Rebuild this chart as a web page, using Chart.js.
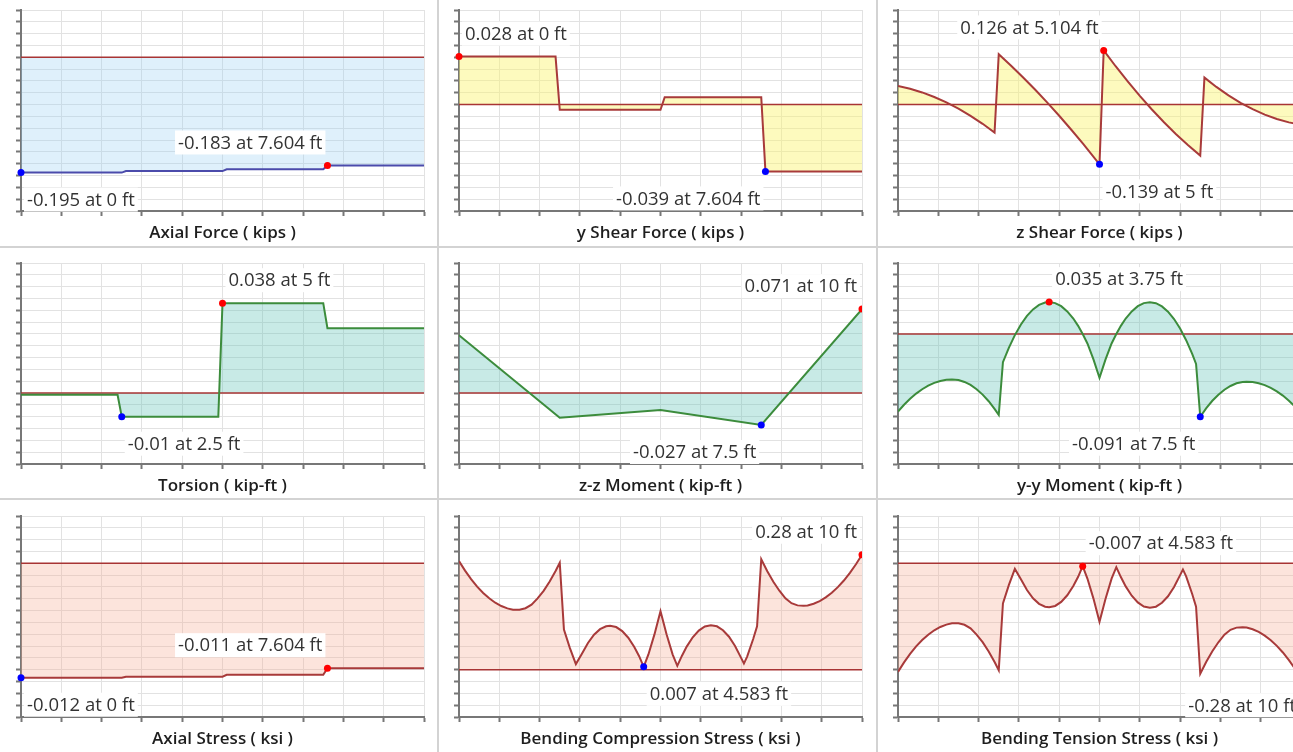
<!DOCTYPE html>
<html>
<head>
<meta charset="utf-8">
<title>Member Diagrams</title>
<script src="https://cdn.jsdelivr.net/npm/chart.js@4.4.1/dist/chart.umd.min.js"></script>
<style>
  html, body { margin: 0; padding: 0; background: #fff; }
  body { position: relative; width: 1293px; height: 752px; overflow: hidden; }
  .panel { position: absolute; }
  .sep { position: absolute; background: #d3d3d3; }
</style>
</head>
<body>
<div class="sep" style="left:437px;top:0;width:2px;height:752px"></div>
<div class="sep" style="left:876px;top:0;width:2px;height:752px"></div>
<div class="sep" style="left:0;top:246px;width:1293px;height:2px"></div>
<div class="sep" style="left:0;top:498px;width:1293px;height:2px"></div>

<canvas class="panel" id="c0" width="440" height="250" style="left:0px;top:0px"></canvas>
<canvas class="panel" id="c1" width="440" height="250" style="left:438px;top:0px"></canvas>
<canvas class="panel" id="c2" width="440" height="250" style="left:877px;top:0px"></canvas>
<canvas class="panel" id="c3" width="440" height="250" style="left:0px;top:253px"></canvas>
<canvas class="panel" id="c4" width="440" height="250" style="left:438px;top:253px"></canvas>
<canvas class="panel" id="c5" width="440" height="250" style="left:877px;top:253px"></canvas>
<canvas class="panel" id="c6" width="440" height="250" style="left:0px;top:506px"></canvas>
<canvas class="panel" id="c7" width="440" height="250" style="left:438px;top:506px"></canvas>
<canvas class="panel" id="c8" width="440" height="250" style="left:877px;top:506px"></canvas>

<script>
// ---- Member results along the 10 ft span (x in ft) ----

// Axial force (kips)
const axialForceX = [0, 2.5, 2.604, 5, 5.104, 7.5, 7.604, 10];
const axialForceY = [-0.195, -0.195, -0.1925, -0.1925, -0.1895, -0.1895, -0.183, -0.183];
const axialForceMax = [7.604, -0.183];
const axialForceMin = [0, -0.195];

// y shear force (kips)
const yShearX = [0, 2.396, 2.5, 5, 5.104, 7.5, 7.604, 10];
const yShearY = [0.028, 0.028, -0.003, -0.003, 0.0043, 0.0043, -0.039, -0.039];
const yShearMax = [0, 0.028];
const yShearMin = [7.604, -0.039];

// z shear force (kips)
const zShearX = [0, 0.3, 0.6, 0.9, 1.2, 1.5, 1.8, 2.1, 2.396,
                 2.5, 2.8, 3.1, 3.4, 3.7, 4.0, 4.3, 4.6, 5.0,
                 5.104, 5.4, 5.7, 6.0, 6.3, 6.6, 6.9, 7.2, 7.5,
                 7.604, 7.9, 8.2, 8.5, 8.8, 9.1, 9.4, 9.7, 10];
const zShearY = [0.0435, 0.0369, 0.0283, 0.0177, 0.0051, -0.0095, -0.0261, -0.0447, -0.065,
                 0.117, 0.0909, 0.0636, 0.035, 0.0051, -0.026, -0.0585, -0.0921, -0.139,
                 0.126, 0.0892, 0.0538, 0.0202, -0.0114, -0.041, -0.0688, -0.0947, -0.1186,
                 0.0628, 0.0411, 0.0215, 0.0042, -0.0107, -0.0233, -0.0335, -0.0414, -0.0469];
const zShearMax = [5.104, 0.126];
const zShearMin = [5, -0.139];

// Torsion (kip-ft)
const torsionX = [0, 2.396, 2.5, 4.896, 5, 7.5, 7.604, 10];
const torsionY = [-0.0007, -0.0007, -0.01, -0.01, 0.038, 0.038, 0.0274, 0.0274];
const torsionMax = [5, 0.038];
const torsionMin = [2.5, -0.01];

// z-z moment (kip-ft)
const zzMomentX = [0, 2.5, 5, 7.5, 10];
const zzMomentY = [0.0489, -0.0208, -0.0143, -0.027, 0.071];
const zzMomentMax = [10, 0.071];
const zzMomentMin = [7.5, -0.027];

// Stations shared by the y-y moment and bending stress diagrams
const curveStations = [
  0, 0.15, 0.3, 0.45, 0.6, 0.75, 0.9, 1.05, 1.2, 1.34, 1.5, 1.65, 1.8, 1.95, 2.1, 2.25, 2.4, 2.5,
  2.604, 2.75, 2.9, 3.05, 3.2, 3.35, 3.5, 3.65, 3.75, 3.9, 4.05, 4.2, 4.35, 4.47, 4.583, 4.7, 4.85, 5.0,
  5.15, 5.3, 5.417, 5.53, 5.65, 5.8, 5.95, 6.1, 6.25, 6.4, 6.55, 6.7, 6.85, 7.0, 7.07, 7.15, 7.3, 7.396,
  7.5, 7.65, 7.8, 7.95, 8.1, 8.25, 8.4, 8.55, 8.65, 8.8, 8.95, 9.1, 9.25, 9.4, 9.55, 9.7, 9.85, 10
];

// y-y moment (kip-ft)
const yyMomentY = [
  -0.0854, -0.0779, -0.0713, -0.0656, -0.0608, -0.0569, -0.0538, -0.0517, -0.0504, -0.05,
  -0.0507, -0.0528, -0.0561, -0.0608, -0.0667, -0.074, -0.0826, -0.089,
  -0.0311, -0.0153, -0.0013, 0.0104, 0.0198, 0.027, 0.0319, 0.0345, 0.035, 0.0339,
  0.0305, 0.0248, 0.0169, 0.0089, 0, -0.0105, -0.028, -0.0482,
  -0.028, -0.0105, 0, 0.0089, 0.0169, 0.0248, 0.0305, 0.0339, 0.0348, 0.0338,
  0.0303, 0.0245, 0.0164, 0.0059, 0, -0.0069, -0.022, -0.0329,
  -0.091, -0.0816, -0.0735, -0.0668, -0.0613, -0.0572, -0.0543, -0.0528, -0.0525, -0.0529,
  -0.0542, -0.0563, -0.0593, -0.0631, -0.0678, -0.0734, -0.0798, -0.087
];
const yyMomentMax = [3.75, 0.035];
const yyMomentMin = [7.5, -0.091];

// Axial stress (ksi)
const axialStressX = [0, 2.5, 2.604, 5, 5.104, 7.5, 7.604, 10];
const axialStressY = [-0.012, -0.012, -0.0119, -0.0119, -0.0117, -0.0117, -0.011, -0.011];
const axialStressMax = [7.604, -0.011];
const axialStressMin = [0, -0.012];

// Bending compression stress (ksi)
const bendCompY = [
  0.2644, 0.2413, 0.2206, 0.2025, 0.1869, 0.1739, 0.1631, 0.1551, 0.1493, 0.1463,
  0.146, 0.1498, 0.1583, 0.1736, 0.1922, 0.2148, 0.2411, 0.2605,
  0.0976, 0.0531, 0.0136, 0.0389, 0.0651, 0.0852, 0.0987, 0.1058, 0.1072, 0.1039,
  0.0941, 0.0779, 0.0555, 0.0329, 0.007, 0.0371, 0.086, 0.1426,
  0.0862, 0.0374, 0.0095, 0.0335, 0.0563, 0.0789, 0.0953, 0.1052, 0.1081, 0.1057,
  0.0962, 0.0803, 0.0579, 0.0288, 0.015, 0.032, 0.0748, 0.1057,
  0.2692, 0.2399, 0.2141, 0.1924, 0.174, 0.1619, 0.1567, 0.1555, 0.1566, 0.1607,
  0.1672, 0.1761, 0.1874, 0.2011, 0.2172, 0.2359, 0.2568, 0.28
];
const bendCompMax = [10, 0.28];
const bendCompMin = [4.583, 0.007];

// Bending tension stress (ksi)
const bendTensY = [
  -0.2644, -0.2413, -0.2206, -0.2025, -0.1869, -0.1739, -0.1631, -0.1551, -0.1493, -0.1463,
  -0.146, -0.1498, -0.1583, -0.1736, -0.1922, -0.2148, -0.2411, -0.2605,
  -0.0976, -0.0531, -0.0136, -0.0389, -0.0651, -0.0852, -0.0987, -0.1058, -0.1072, -0.1039,
  -0.0941, -0.0779, -0.0555, -0.0329, -0.007, -0.0371, -0.086, -0.1426,
  -0.0862, -0.0374, -0.0095, -0.0335, -0.0563, -0.0789, -0.0953, -0.1052, -0.1081, -0.1057,
  -0.0962, -0.0803, -0.0579, -0.0288, -0.015, -0.032, -0.0748, -0.1057,
  -0.2692, -0.2399, -0.2141, -0.1924, -0.174, -0.1619, -0.1567, -0.1555, -0.1566, -0.1607,
  -0.1672, -0.1761, -0.1874, -0.2011, -0.2172, -0.2359, -0.2568, -0.28
];
const bendTensMax = [4.583, -0.007];
const bendTensMin = [10, -0.28];

// ---- Styling ----
const GRID = '#e2e2e2';
const AXIS = '#777777';
const ZERO = '#a83434';
const FONT = '"Open Sans", "Noto Sans", sans-serif';

const STYLE = {
  blue:   { line: '#4b4bab', fill: 'rgba(148, 205, 242, 0.30)' },
  yellow: { line: '#a83a3a', fill: 'rgba(250, 244, 110, 0.45)' },
  teal:   { line: '#3c8c3c', fill: 'rgba(98, 195, 184, 0.35)' },
  pink:   { line: '#a83a3a', fill: 'rgba(245, 165, 138, 0.30)' }
};

// Title under each plot plus the max / min value call-outs
const panelTextPlugin = {
  id: 'panelText',
  afterDatasetsDraw(chart, args, opts) {
    const { ctx, chartArea, scales } = chart;
    const xs = scales.x, ys = scales.y;
    ctx.save();
    ctx.font = '600 17px ' + FONT;
    ctx.fillStyle = '#1e1e1e';
    ctx.textAlign = 'center';
    ctx.textBaseline = 'middle';
    ctx.fillText(opts.title, (chartArea.left + chartArea.right) / 2, chartArea.bottom + 22);

    ctx.font = '18.5px ' + FONT;
    ctx.textAlign = 'left';
    const callouts = [[opts.maxPt, true], [opts.minPt, false]];
    for (const [pt, isMax] of callouts) {
      const px = xs.getPixelForValue(pt[0]);
      const py = ys.getPixelForValue(pt[1]);
      const text = pt[1] + ' at ' + pt[0] + ' ft';
      const w = ctx.measureText(text).width;
      const left = pt[0] <= 5 ? px + 6 : px - 5 - w;
      const cy = isMax ? py - 23 : py + 27;
      ctx.fillStyle = '#ffffff';
      ctx.fillRect(left - 3, cy - 12, w + 6, 24);
      ctx.fillStyle = '#333333';
      ctx.fillText(text, left, cy + 1);
    }
    ctx.restore();
  }
};

function makePanel(id, xs, ys, style, yMin, yMax, maxPt, minPt, title) {
  const series = xs.map((x, i) => ({ x: x, y: ys[i] }));
  const marker = (pt, color) => ({
    data: [{ x: pt[0], y: pt[1] }],
    showLine: false,
    pointRadius: 3.5,
    pointBackgroundColor: color,
    pointBorderColor: color,
    pointBorderWidth: 0,
    clip: { left: 6, top: 6, right: 0, bottom: 6 },
    order: 0
  });
  const axisGrid = { color: GRID, lineWidth: 1, tickColor: AXIS, tickLength: 5, tickWidth: 2 };
  return new Chart(document.getElementById(id), {
    type: 'line',
    data: {
      datasets: [
        marker(maxPt, '#ff0000'),
        marker(minPt, '#0000ff'),
        {
          data: series,
          borderColor: style.line,
          borderWidth: 2,
          backgroundColor: style.fill,
          fill: { value: 0 },
          pointRadius: 0,
          tension: 0,
          order: 1
        },
        {
          data: [{ x: 0, y: 0 }, { x: 10, y: 0 }],
          borderColor: ZERO,
          borderWidth: 1.5,
          pointRadius: 0,
          fill: false,
          order: 2
        }
      ]
    },
    options: {
      responsive: false,
      animation: false,
      events: [],
      layout: { padding: { left: 16, top: 10, right: 16, bottom: 34 } },
      plugins: {
        legend: { display: false },
        tooltip: { enabled: false },
        filler: { drawTime: 'beforeDatasetsDraw' },
        panelText: { title: title, maxPt: maxPt, minPt: minPt }
      },
      scales: {
        x: {
          type: 'linear', min: 0, max: 10,
          ticks: { display: false, stepSize: 1 },
          grid: axisGrid,
          border: { color: AXIS, width: 2 }
        },
        y: {
          type: 'linear', min: yMin, max: yMax,
          ticks: { display: false, count: 18 },
          grid: axisGrid,
          border: { color: AXIS, width: 2 }
        }
      }
    },
    plugins: [panelTextPlugin]
  });
}

makePanel('c0', axialForceX, axialForceY, STYLE.blue, -0.26, 0.08, axialForceMax, axialForceMin, 'Axial Force ( kips )');
makePanel('c1', yShearX, yShearY, STYLE.yellow, -0.0621, 0.0552, yShearMax, yShearMin, 'y Shear Force ( kips )');
makePanel('c2', zShearX, zShearY, STYLE.yellow, -0.2475, 0.22, zShearMax, zShearMin, 'z Shear Force ( kips )');
makePanel('c3', torsionX, torsionY, STYLE.teal, -0.03, 0.055, torsionMax, torsionMin, 'Torsion ( kip-ft )');
makePanel('c4', zzMomentX, zzMomentY, STYLE.teal, -0.06, 0.11, zzMomentMax, zzMomentMin, 'z-z Moment ( kip-ft )');
makePanel('c5', curveStations, yyMomentY, STYLE.teal, -0.143, 0.078, yyMomentMax, yyMomentMin, 'y-y Moment ( kip-ft )');
makePanel('c6', axialStressX, axialStressY, STYLE.pink, -0.01612, 0.00496, axialStressMax, axialStressMin, 'Axial Stress ( ksi )');
makePanel('c7', curveStations, bendCompY, STYLE.pink, -0.1152, 0.3744, bendCompMax, bendCompMin, 'Bending Compression Stress ( ksi )');
makePanel('c8', curveStations, bendTensY, STYLE.pink, -0.3744, 0.1152, bendTensMax, bendTensMin, 'Bending Tension Stress ( ksi )');
</script>
</body>
</html>
